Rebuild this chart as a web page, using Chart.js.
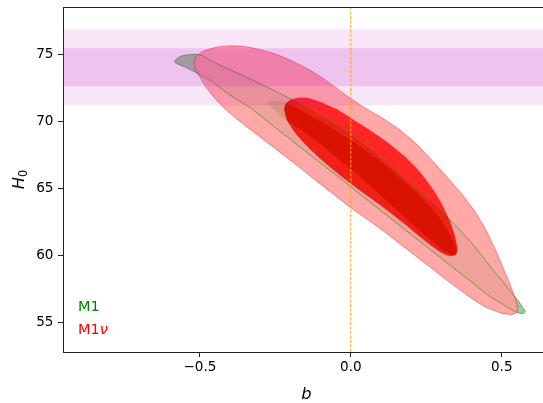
<!DOCTYPE html>
<html><head><meta charset="utf-8">
<script src="https://cdn.jsdelivr.net/npm/chart.js@4.4.1/dist/chart.umd.min.js"></script>
<style>
html,body{margin:0;padding:0;overflow:hidden;background:#fff;width:543px;height:403px}
#wrap{position:absolute;left:0;top:0;width:560px;height:403px}
</style></head><body>
<div id="wrap"><canvas id="c" width="560" height="403"></canvas></div>
<script>
// ---- axes ----
const xTicks = [-0.5, 0.0, 0.5];
const yTicks = [55, 60, 65, 70, 75];
const xRange = [-0.954, 0.660];
const yRange = [52.786, 78.532];
const xLabel = 'b';
const seriesNames = ['M1', 'M1', 'ν'];

// ---- H0 prior bands (1 sigma / 2 sigma) ----
const band1s = [72.61, 75.45];
const band2s = [71.19, 76.87];
const vLineB = [0.0];

// ---- M1 contours ----
const m1Outer_b = [-0.585,-0.578,-0.563,-0.540,-0.515,-0.490,-0.466,-0.420,-0.356,-0.300,-0.246,-0.190,-0.135,-0.080,-0.025,0.025,0.075,0.140,0.200,0.270,0.330,0.390,0.440,0.490,0.530,0.555,0.572,0.578,0.572,0.555,
  0.530,0.500,0.460,0.400,0.330,0.250,0.170,0.090,0.020,-0.050,-0.120,-0.190,-0.260,-0.330,-0.400,-0.460,-0.510,-0.550,-0.575];
const m1Outer_H = [74.45,74.66,74.86,74.97,75.00,74.88,74.55,74.05,73.40,72.80,72.20,71.55,70.85,70.10,69.35,68.55,67.65,66.40,65.20,63.90,62.60,61.20,59.80,58.40,57.30,56.60,56.05,55.80,55.66,55.70,
  55.98,56.40,56.93,58.00,59.24,60.66,62.08,63.50,64.75,66.00,67.23,68.47,69.70,70.95,71.95,72.95,73.60,74.05,74.28];

const m1Inner_b = [-0.276,-0.266,-0.248,-0.222,-0.180,-0.120,-0.060,0.000,0.060,0.120,0.180,0.230,0.280,0.315,0.338,0.350,0.348,0.335,
  0.312,0.265,0.200,0.120,0.030,-0.050,-0.114,-0.170,-0.224,-0.258];
const m1Inner_H = [71.37,71.50,71.54,71.42,71.00,70.25,69.45,68.60,67.65,66.60,65.45,64.40,63.20,62.10,61.10,60.45,60.10,60.02,
  60.30,61.15,62.40,64.05,65.87,67.35,68.55,69.45,70.25,70.95];

// ---- M1nu contours ----
const nuOuter_b = [-0.520,-0.515,-0.500,-0.475,-0.440,-0.400,-0.360,-0.310,-0.250,-0.190,-0.130,-0.070,0.000,0.050,0.100,0.160,0.215,0.270,0.330,0.370,0.410,0.446,0.475,0.500,0.525,0.543,0.553,0.548,
  0.530,0.500,0.450,0.390,0.330,0.270,0.215,0.160,0.100,0.050,0.000,-0.060,-0.114,-0.190,-0.250,-0.302,-0.360,-0.413,-0.450,-0.480,-0.500,-0.515];
const nuOuter_H = [74.35,74.75,75.10,75.35,75.55,75.63,75.60,75.40,75.02,74.45,73.75,72.85,71.70,70.95,70.30,69.40,68.35,67.05,65.55,64.50,63.30,61.95,60.60,59.30,57.95,56.90,56.10,55.70,
  55.58,55.68,56.10,56.95,57.95,59.00,59.95,60.90,61.95,62.75,63.55,64.60,65.55,66.90,67.95,68.85,69.85,70.85,71.70,72.55,73.30,73.90];

const nuInner_b = [-0.222,-0.215,-0.197,-0.170,-0.140,-0.100,-0.050,0.000,0.060,0.120,0.180,0.230,0.270,0.300,0.325,0.343,0.352,0.352,0.342,
  0.325,0.300,0.250,0.180,0.100,0.020,-0.060,-0.130,-0.180,-0.210];
const nuInner_H = [70.90,71.35,71.65,71.78,71.75,71.45,70.95,70.25,69.40,68.45,67.35,66.20,65.00,63.90,62.75,61.60,60.70,60.20,59.98,
  59.97,60.20,61.00,62.30,63.70,65.00,66.40,67.80,69.00,70.00];

// ---- helpers to build point lists ----
const pts = (bs, hs) => bs.map((b, i) => ({x: b, y: hs[i]}));
const closed = (bs, hs) => { const p = pts(bs, hs); p.push(p[0]); return p; };
function ring(ob, oh, ib, ih) {
  const o = pts(ob, oh), inn = pts(ib, ih);
  const rev = [inn[0]].concat(inn.slice(1).reverse(), [inn[0]]);
  return o.concat([o[0]], rev, [o[0]]);
}
const rect = (lo, hi) => [
  {x: xRange[0], y: lo}, {x: xRange[1], y: lo}, {x: xRange[1], y: hi}, {x: xRange[0], y: hi}, {x: xRange[0], y: lo}
];

const base = {pointRadius: 0, pointHoverRadius: 0, tension: 0.2, borderWidth: 0, borderColor: 'rgba(0,0,0,0)'};

const datasets = [
  Object.assign({}, base, {label: 'M1 2s', data: closed(m1Outer_b, m1Outer_H), fill: 'shape', backgroundColor: 'rgb(153,204,153)', order: 10}),
  Object.assign({}, base, {label: 'M1 1s', data: closed(m1Inner_b, m1Inner_H), fill: 'shape', backgroundColor: 'rgb(0,128,0)', order: 9}),
  Object.assign({}, base, {label: 'M1nu 2s', data: ring(nuOuter_b, nuOuter_H, nuInner_b, nuInner_H), fill: 'shape', backgroundColor: 'rgba(255,153,153,0.85)', order: 8}),
  Object.assign({}, base, {label: 'M1nu 1s', data: closed(nuInner_b, nuInner_H), fill: 'shape', backgroundColor: 'rgba(255,0,0,0.85)', order: 7}),
  Object.assign({}, base, {label: 'M1nu edge', data: closed(nuOuter_b, nuOuter_H), fill: false, borderWidth: 1, borderColor: 'rgba(255,0,0,0.42)', order: 6}),
  Object.assign({}, base, {label: 'M1 edge', data: closed(m1Outer_b, m1Outer_H), fill: false, borderWidth: 1, borderColor: 'rgba(0,128,0,0.5)', order: 5}),
  Object.assign({}, base, {label: 'band 2s', data: rect(band2s[0], band2s[1]), tension: 0, fill: 'shape', backgroundColor: 'rgba(191,0,191,0.10)', order: 4}),
  Object.assign({}, base, {label: 'band 1s', data: rect(band1s[0], band1s[1]), tension: 0, fill: 'shape', backgroundColor: 'rgba(191,0,191,0.15)', order: 3}),
  Object.assign({}, base, {label: 'b=0', data: [{x: vLineB[0], y: yRange[0]}, {x: vLineB[0], y: yRange[1]}], tension: 0, fill: false, borderWidth: 1, borderColor: 'rgb(255,165,0)', borderDash: [3, 1.5], order: 2})
];

const decor = {
  id: 'decor',
  afterDraw(chart) {
    const {ctx, chartArea: a} = chart;
    ctx.save();
    ctx.strokeStyle = '#222'; ctx.lineWidth = 1;
    ctx.beginPath(); ctx.moveTo(a.left, a.top + 0.5); ctx.lineTo(a.right, a.top + 0.5); ctx.stroke();
    ctx.textAlign = 'left'; ctx.textBaseline = 'alphabetic';
    ctx.font = '14.5px "DejaVu Sans"';
    ctx.fillStyle = '#008000';
    ctx.fillText(seriesNames[0], a.left + 15, a.bottom - 41.5);
    ctx.fillStyle = '#ff0000';
    ctx.fillText(seriesNames[1], a.left + 15, a.bottom - 18.5);
    const w1 = ctx.measureText(seriesNames[1]).width;
    ctx.font = 'italic 14.5px "DejaVu Sans"';
    ctx.fillText(seriesNames[2], a.left + 15 + w1, a.bottom - 18.5);
    // y axis label H_0
    const cy = (a.top + a.bottom) / 2;
    ctx.translate(24.3, cy);
    ctx.rotate(-Math.PI / 2);
    ctx.fillStyle = '#000';
    ctx.font = 'italic 16.3px "DejaVu Sans"';
    const wH = ctx.measureText('H').width;
    ctx.font = '11.4px "DejaVu Sans"';
    const w0 = ctx.measureText('0').width;
    const start = -(wH + w0) / 2;
    ctx.font = 'italic 16.3px "DejaVu Sans"';
    ctx.fillText('H', start, 0);
    ctx.font = '11.4px "DejaVu Sans"';
    ctx.fillText('0', start + wH, 2.6);
    ctx.restore();
  }
};

const noPad = s => { s.paddingTop = 0; s.paddingBottom = 0; s.paddingLeft = 0; s.paddingRight = 0; };
const tickFont = {family: 'DejaVu Sans', size: 13.6};
new Chart(document.getElementById('c'), {
  type: 'line',
  data: {datasets},
  options: {
    responsive: false, animation: false, events: [],
    layout: {padding: {left: 0, top: 7, right: 10, bottom: 0}},
    plugins: {legend: {display: false}, tooltip: {enabled: false}},
    scales: {
      x: {
        type: 'linear', min: xRange[0], max: xRange[1],
        afterBuildTicks: s => { s.ticks = xTicks.map(v => ({value: v})); },
        afterFit: s => { s.height = 51; noPad(s); },
        ticks: {font: tickFont, color: '#000', padding: 2, maxRotation: 0,
          callback: v => (v < 0 ? '\u2212' : '') + Math.abs(v).toFixed(1)},
        grid: {display: true, drawOnChartArea: false, tickLength: 5, tickWidth: 1, tickColor: '#222'},
        border: {display: true, color: '#222', width: 1},
        title: {display: true, text: xLabel, color: '#000', padding: {top: 0, bottom: 0},
          font: {family: 'DejaVu Sans', style: 'italic', size: 16.3, lineHeight: 1}}
      },
      y: {
        type: 'linear', min: yRange[0], max: yRange[1],
        afterBuildTicks: s => { s.ticks = yTicks.map(v => ({value: v})); },
        afterFit: s => { s.width = 63; noPad(s); },
        ticks: {font: tickFont, color: '#000', padding: 4.5, callback: v => String(v)},
        grid: {display: true, drawOnChartArea: false, tickLength: 5, tickWidth: 1, tickColor: '#222'},
        border: {display: true, color: '#222', width: 1}
      }
    }
  },
  plugins: [decor]
});
</script>
</body></html>
